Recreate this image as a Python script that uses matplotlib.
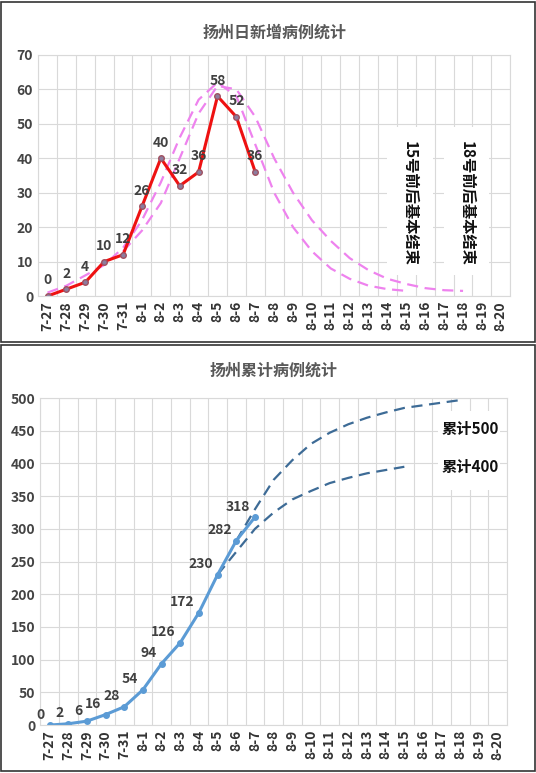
import matplotlib
matplotlib.use('Agg')
import matplotlib.pyplot as plt
import numpy as np
from matplotlib.patches import Rectangle

plt.rcParams['font.family'] = ['Noto Sans CJK SC', 'DejaVu Sans']

dates = ['7-27','7-28','7-29','7-30','7-31'] + ['8-%d' % d for d in range(1, 21)]
daily = [0, 2, 4, 10, 12, 26, 40, 32, 36, 58, 52, 36]
proj15 = [1, 3, 6, 9, 14, 22, 33, 46, 57, 62, 58, 44, 30, 20, 13, 8, 5, 3, 2, 1.5]
proj18_start = 4
proj18 = [13, 19, 27, 40, 53, 61, 60, 52, 40, 30, 22, 16, 11, 7.5, 5, 3.5, 2.3, 1.7, 1.5]
cum = [0, 2, 6, 16, 28, 54, 94, 126, 172, 230, 282, 318]
p500_start = 10
p500 = [282, 330, 375, 405, 430, 447, 460, 470, 478, 485, 489, 493, 497]
p400_start = 9
p400 = [230, 265, 300, 325, 345, 358, 370, 378, 385, 390, 395]

fig = plt.figure(figsize=(5.36, 7.73), dpi=100)
fig.patches.append(Rectangle((0.002, 0.558), 0.996, 0.44, transform=fig.transFigure, fill=False, ec='#333333', lw=1.2))
fig.patches.append(Rectangle((0.002, 0.002), 0.996, 0.552, transform=fig.transFigure, fill=False, ec='#333333', lw=1.2))

def setup(ax, ymax, step):
    n = len(dates)
    ax.set_xlim(-0.5, n - 0.5)
    ax.set_ylim(0, ymax)
    ax.set_yticks(np.arange(0, ymax + 1, step))
    ax.set_xticks(range(n))
    ax.set_xticklabels(dates, rotation=90, fontsize=10, color='#333333', fontweight='bold')
    ax.set_xticks(np.arange(-0.5, n, 1), minor=True)
    ax.tick_params(axis='x', which='both', length=0)
    ax.tick_params(axis='y', length=0, labelsize=10, labelcolor='#444444')
    for l in ax.get_yticklabels():
        l.set_fontweight('bold')
    ax.grid(True, which='minor', axis='x', color='#d9d9d9', lw=0.8)
    ax.grid(True, which='major', axis='y', color='#d9d9d9', lw=0.8)
    for s in ax.spines.values():
        s.set_color('#d9d9d9')
    ax.set_axisbelow(True)

# Top chart
ax1 = fig.add_axes([0.071, 0.617, 0.881, 0.312])
setup(ax1, 70, 10)
x = np.arange(len(daily))
ax1.plot(range(len(proj15)), proj15, '--', color='#ee82ee', lw=1.6, dashes=(5, 3))
ax1.plot(range(proj18_start, proj18_start + len(proj18)), proj18, '--', color='#ee82ee', lw=1.6, dashes=(5, 3))
ax1.plot(x, daily, color='#ee1111', lw=2.2, marker='o', ms=4, mfc='#8c7d9e', mec='#a05060')
for i, v in enumerate(daily):
    ax1.text(i, v + 2.5, str(v), ha='center', va='bottom', fontsize=10, color='#404040', fontweight='bold')
ax1.text(0.5, 1.07, '扬州日新增病例统计', transform=ax1.transAxes, ha='center', fontsize=11.5, fontweight='bold', color='#595959')
for xc, txt in [(19.5, '15号前后基本结束'), (22.5, '18号前后基本结束')]:
    ax1.add_patch(Rectangle((xc - 1.5, 6), 2.4, 43, fc='white', ec='none', zorder=3))
    ax1.text(xc - 0.3, 27, txt, rotation=270, ha='center', va='center', fontsize=11, fontweight='bold', color='#111111', zorder=4)

# Bottom chart
ax2 = fig.add_axes([0.075, 0.062, 0.871, 0.423])
setup(ax2, 500, 50)
ax2.plot(range(p500_start, p500_start + len(p500)), p500, color='#3d6b96', lw=1.6, dashes=(5, 3))
ax2.plot(range(p400_start, p400_start + len(p400)), p400, color='#3d6b96', lw=1.6, dashes=(5, 3))
ax2.plot(range(len(cum)), cum, color='#5b9bd5', lw=2.2, marker='o', ms=4)
for i, v in enumerate(cum):
    ax2.text(i - 0.25, v + 5, str(v), ha='right', va='bottom', fontsize=10, color='#404040', fontweight='bold')
ax2.text(0.5, 1.07, '扬州累计病例统计', transform=ax2.transAxes, ha='center', fontsize=11.5, fontweight='bold', color='#595959')
ax2.add_patch(Rectangle((20.8, 360), 3.3, 120, fc='white', ec='none', zorder=3))
ax2.text(21.0, 452, '累计500', ha='left', va='center', fontsize=11, color='#111111', fontweight='bold', zorder=4)
ax2.text(21.0, 394, '累计400', ha='left', va='center', fontsize=11, color='#111111', fontweight='bold', zorder=4)

fig.savefig('out.png', dpi=100)
